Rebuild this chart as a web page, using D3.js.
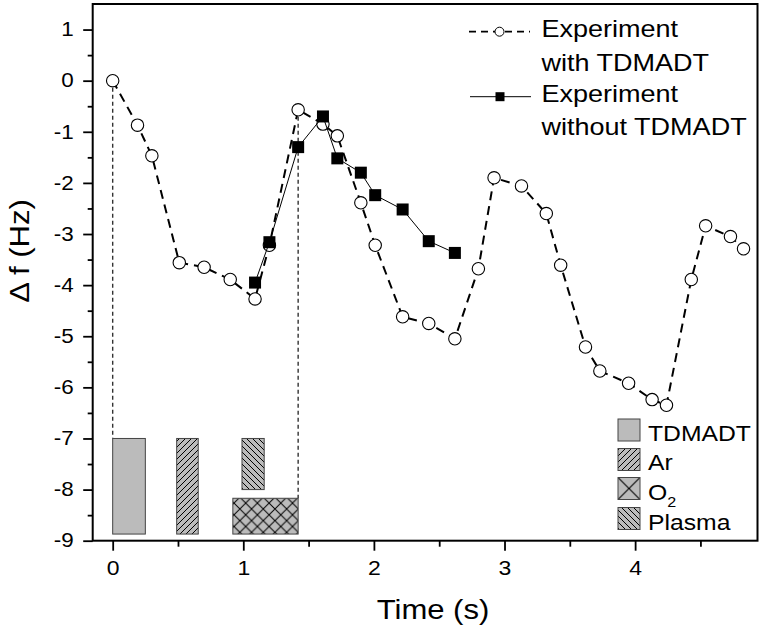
<!DOCTYPE html>
<html>
<head>
<meta charset="utf-8">
<script src="https://d3js.org/d3.v7.min.js"></script>
<style>
  body { margin: 0; background: #fff; }
  svg { font-family: "Liberation Sans", Arial, sans-serif; }
  .tick line { stroke: #000; stroke-width: 1.8; }
  .tick text { fill: #000; }
</style>
</head>
<body>
<svg id="chart" width="763" height="628"></svg>
<script>
// experiment with TDMADT (open circles, dashed line)
var timeWith = [0, 0.19, 0.30, 0.51, 0.70, 0.90, 1.09, 1.20, 1.42, 1.61,
                1.72, 1.90, 2.01, 2.22, 2.42, 2.62, 2.80, 2.92, 3.13, 3.32,
                3.43, 3.62, 3.73, 3.95, 4.13, 4.24, 4.43, 4.54, 4.73, 4.83];
var dfWith = [0, -0.87, -1.47, -3.56, -3.65, -3.89, -4.27, -3.22, -0.57, -0.85,
              -1.08, -2.39, -3.22, -4.62, -4.75, -5.05, -3.68, -1.90, -2.06, -2.60,
              -3.61, -5.21, -5.68, -5.92, -6.24, -6.35, -3.89, -2.84, -3.05, -3.29];

// experiment without TDMADT (filled squares, solid line)
var timeWithout = [1.09, 1.20, 1.42, 1.61, 1.72, 1.90, 2.01, 2.22, 2.42, 2.62];
var dfWithout = [-3.95, -3.16, -1.30, -0.70, -1.52, -1.80, -2.24, -2.52, -3.14, -3.37];

// gas pulse blocks
var pulseNames  = ["TDMADT", "Ar", "Plasma", "O2"];
var pulseStart  = [0, 0.49, 0.99, 0.92];
var pulseEnd    = [0.25, 0.655, 1.16, 1.42];
var pulseTop    = [-7, -7, -7, -8.17];
var pulseBottom = [-8.87, -8.87, -8.0, -8.87];

// dotted guide lines
var guideTime = [0, 1.42];
var guideFrom = [0, -0.57];
var guideTo   = [-7, -8.17];

var xTicks = [0, 1, 2, 3, 4];
var xMinor = [0.5, 1.5, 2.5, 3.5, 4.5];
var yTicks = [-9, -8, -7, -6, -5, -4, -3, -2, -1, 0, 1];
var yMinor = [-8.5, -7.5, -6.5, -5.5, -4.5, -3.5, -2.5, -1.5, -0.5, 0.5];

var legendGas = ["TDMADT", "Ar", "O2", "Plasma"];

var svg = d3.select("#chart");
var x = d3.scaleLinear().domain([-0.153, 4.937]).range([92.7, 757.5]);
var y = d3.scaleLinear().domain([-9, 1.5]).range([540.7, 4]);

var K = 1.15; // text looks horizontally wide in the original

function stretch(sel, k) {
  sel.each(function() {
    var t = d3.select(this);
    var tx = +t.attr("x") || 0, ty = +t.attr("y") || 0;
    t.attr("x", 0).attr("y", 0)
     .attr("transform", "translate(" + tx + "," + ty + ") scale(" + k + ",1)");
  });
}

// patterns
var defs = svg.append("defs");
var gray = "#bbbbbb";
function hatch(id, size, d, w) {
  var p = defs.append("pattern").attr("id", id)
    .attr("patternUnits", "userSpaceOnUse")
    .attr("width", size).attr("height", size);
  p.append("rect").attr("width", size).attr("height", size).attr("fill", gray);
  p.append("path").attr("d", d).attr("stroke", "#000").attr("stroke-width", w).attr("fill", "none");
}
hatch("pAr", 6, "M0,6L6,0M-1,1L1,-1M5,7L7,5", 1);
hatch("pPlasma", 6, "M0,0L6,6M-1,5L1,7M5,-1L7,1", 1);
hatch("pO2", 11.7, "M0,0L11.7,11.7M11.7,0L0,11.7", 1);
function fillFor(name) {
  if (name === "Ar") return "url(#pAr)";
  if (name === "Plasma") return "url(#pPlasma)";
  if (name === "O2") return "url(#pO2)";
  return gray;
}

// guide lines
svg.append("g").selectAll("line")
  .data(guideTime).enter().append("line")
  .attr("x1", function(d) { return x(d); })
  .attr("x2", function(d) { return x(d); })
  .attr("y1", function(d, i) { return y(guideFrom[i]); })
  .attr("y2", function(d, i) { return y(guideTo[i]); })
  .attr("stroke", "#333").attr("stroke-width", 1.4)
  .attr("stroke-dasharray", "4,3");

// pulse blocks
svg.append("g").selectAll("rect")
  .data(pulseNames).enter().append("rect")
  .attr("x", function(d, i) { return x(pulseStart[i]); })
  .attr("width", function(d, i) { return x(pulseEnd[i]) - x(pulseStart[i]); })
  .attr("y", function(d, i) { return y(pulseTop[i]); })
  .attr("height", function(d, i) { return y(pulseBottom[i]) - y(pulseTop[i]); })
  .attr("fill", function(d) { return fillFor(d); })
  .attr("stroke", "#444").attr("stroke-width", 1);

// series
var withData = timeWith.map(function(t, i) { return [t, dfWith[i]]; });
var withoutData = timeWithout.map(function(t, i) { return [t, dfWithout[i]]; });
var line = d3.line().x(function(d) { return x(d[0]); }).y(function(d) { return y(d[1]); });

svg.append("path").datum(withData)
  .attr("d", line).attr("fill", "none")
  .attr("stroke", "#000").attr("stroke-width", 2)
  .attr("stroke-dasharray", "9,6");
svg.append("g").selectAll("circle")
  .data(withData).enter().append("circle")
  .attr("cx", function(d) { return x(d[0]); })
  .attr("cy", function(d) { return y(d[1]); })
  .attr("r", 6.2)
  .attr("fill", "#fff").attr("stroke", "#000").attr("stroke-width", 1.1);

svg.append("path").datum(withoutData)
  .attr("d", line).attr("fill", "none")
  .attr("stroke", "#000").attr("stroke-width", 1);
svg.append("g").selectAll("rect")
  .data(withoutData).enter().append("rect")
  .attr("x", function(d) { return x(d[0]) - 6; })
  .attr("y", function(d) { return y(d[1]) - 6; })
  .attr("width", 12).attr("height", 12)
  .attr("fill", "#000");

// axes
var fmt = function(d) { return String(d); };
var gx = svg.append("g").attr("transform", "translate(0," + y(-9) + ")");
gx.call(d3.axisBottom(x).tickValues(xTicks).tickFormat(fmt).tickSize(10).tickPadding(10));
gx.append("g").call(d3.axisBottom(x).tickValues(xMinor).tickSize(6).tickFormat(""));
gx.selectAll(".domain").remove();
gx.selectAll("text").style("font-size", "20px").style("font-family", "Liberation Sans, Arial, sans-serif");
stretch(gx.selectAll(".tick text"), K);

var gy = svg.append("g").attr("transform", "translate(" + x(-0.153) + ",0)");
gy.call(d3.axisLeft(y).tickValues(yTicks).tickFormat(fmt).tickSize(9.5).tickPadding(9.5));
gy.append("g").call(d3.axisLeft(y).tickValues(yMinor).tickSize(5).tickFormat(""));
gy.selectAll(".domain").remove();
gy.selectAll("text").style("font-size", "19.5px").style("font-family", "Liberation Sans, Arial, sans-serif");
stretch(gy.selectAll(".tick text"), K);

// frame
svg.append("rect")
  .attr("x", x(-0.153)).attr("y", y(1.5))
  .attr("width", x(4.937) - x(-0.153)).attr("height", y(-9) - y(1.5))
  .attr("fill", "none").attr("stroke", "#000").attr("stroke-width", 2);

// axis titles
svg.append("text").attr("x", 433).attr("y", 619)
  .attr("text-anchor", "middle").style("font-size", "27px")
  .text("Time (s)").call(stretch, K);
svg.append("text")
  .attr("transform", "translate(28.5,251) rotate(-90) scale(" + K + ",1)")
  .attr("text-anchor", "middle").style("font-size", "27px")
  .text("\u0394 f (Hz)");

// series legend
var lg = svg.append("g");
lg.append("line").attr("x1", 469).attr("x2", 530).attr("y1", 31.7).attr("y2", 31.7)
  .attr("stroke", "#000").attr("stroke-width", 1.8).attr("stroke-dasharray", "7,5");
lg.append("circle").attr("cx", 499.5).attr("cy", 31.7).attr("r", 4.5)
  .attr("fill", "#fff").attr("stroke", "#000").attr("stroke-width", 1);
lg.append("line").attr("x1", 470).attr("x2", 531).attr("y1", 96.7).attr("y2", 96.7)
  .attr("stroke", "#000").attr("stroke-width", 1);
lg.append("rect").attr("x", 495.5).attr("y", 92.2).attr("width", 9).attr("height", 9)
  .attr("fill", "#000");
var legLines = ["Experiment", "with TDMADT", "Experiment", "without TDMADT"];
var legBase = [37, 70.5, 101.5, 135];
lg.selectAll("text.s").data(legLines).enter().append("text")
  .attr("class", "s")
  .attr("x", 541.5).attr("y", function(d, i) { return legBase[i]; })
  .style("font-size", "23.5px").text(function(d) { return d; })
  .call(stretch, K);

// gas legend
var gl = svg.append("g");
var gasTop = [419, 448.5, 477.5, 507.5];
var gasBase = [440.5, 470, 499.5, 530];
defs.append("pattern").attr("id", "pO2leg")
  .attr("patternUnits", "userSpaceOnUse").attr("x", 618).attr("y", gasTop[2])
  .attr("width", 22).attr("height", 22)
  .call(function(p) {
    p.append("rect").attr("width", 22).attr("height", 22).attr("fill", gray);
    p.append("path").attr("d", "M0,0L22,22M22,0L0,22").attr("stroke", "#000").attr("stroke-width", 1.1);
  });
gl.selectAll("rect").data(legendGas).enter().append("rect")
  .attr("x", 618).attr("y", function(d, i) { return gasTop[i]; })
  .attr("width", 22).attr("height", 22)
  .attr("fill", function(d) { return d === "O2" ? "url(#pO2leg)" : fillFor(d); })
  .attr("stroke", "#444").attr("stroke-width", 1);
gl.selectAll("text").data(legendGas).enter().append("text")
  .attr("x", 648).attr("y", function(d, i) { return gasBase[i]; })
  .style("font-size", "21.5px")
  .each(function(d) {
    var t = d3.select(this);
    if (d === "O2") {
      t.text("O");
      t.append("tspan").attr("dy", 7).style("font-size", "14px").text("2");
    } else {
      t.text(d);
    }
  })
  .call(stretch, K);
</script>
</body>
</html>
